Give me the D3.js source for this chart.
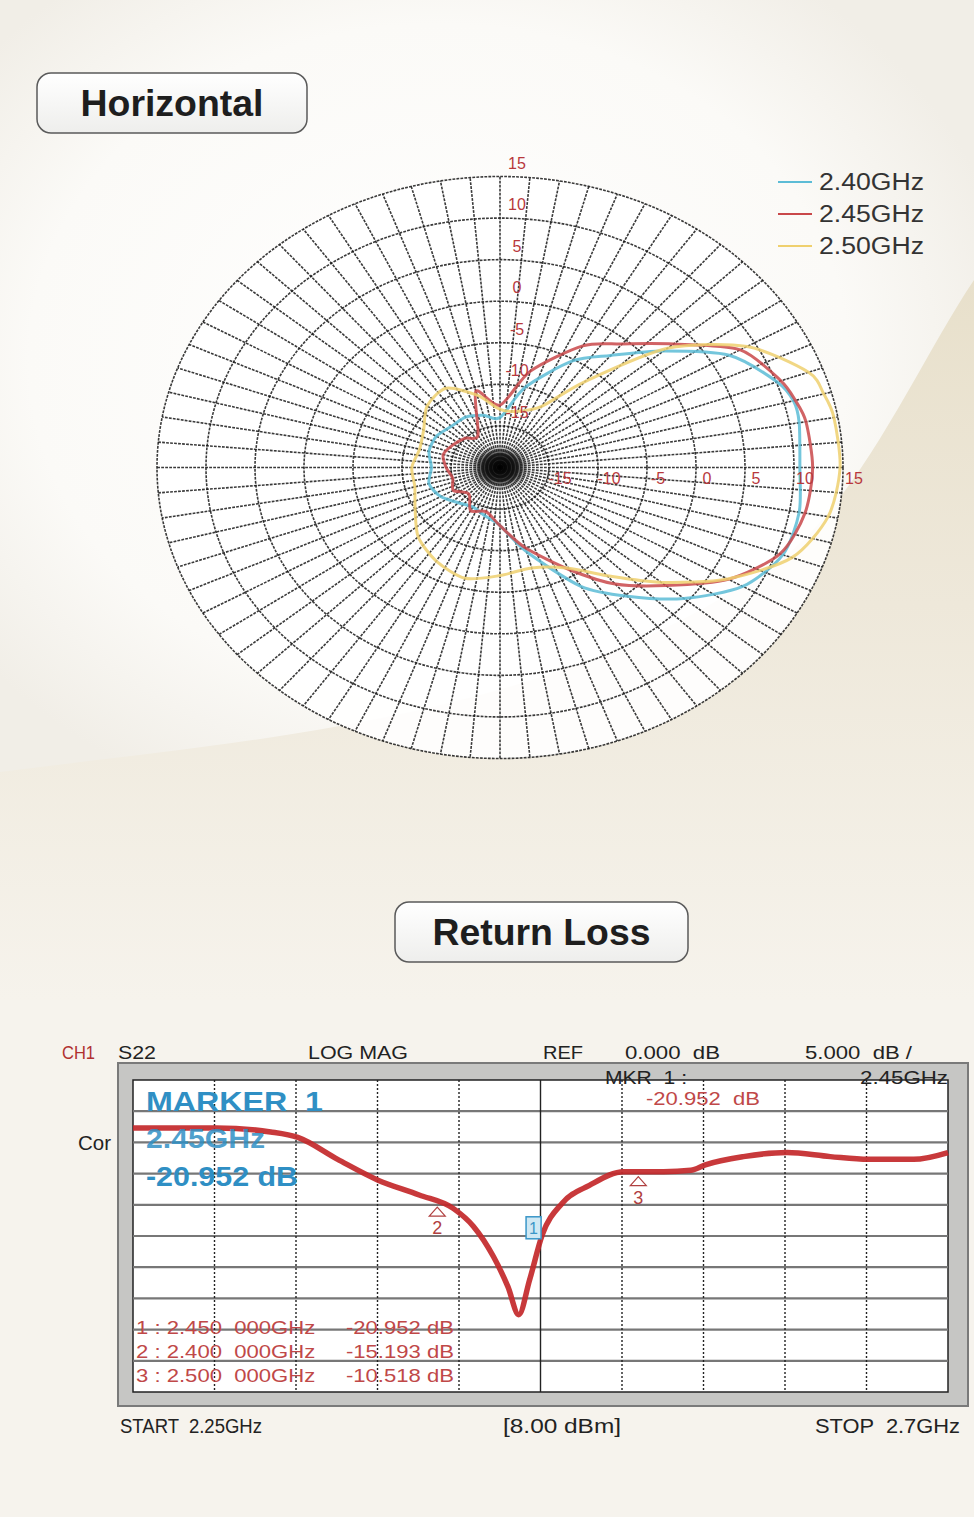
<!DOCTYPE html>
<html>
<head>
<meta charset="utf-8">
<script src="https://cdn.jsdelivr.net/npm/d3@7"></script>
<style>
  body { margin: 0; background: #f4f1ea; }
  svg { display: block; }
  text { font-family: "Liberation Sans", Arial, sans-serif; }
</style>
</head>
<body>
<svg id="chart" width="974" height="1517"></svg>
<script>
// ---- polar pattern data (gain in dB vs azimuth in degrees, 0 = right, counter-clockwise)
const angles = [0, 10, 15, 20, 30, 40, 50, 60, 75, 90, 105, 120, 135, 150, 165, 180,
  195, 210, 225, 240, 255, 270, 285, 300, 310, 320, 330, 340, 350];
const gain240 = [10.6, 11.0, 11.0, 10.1, 7.0, 1.8, -2.4, -5.2, -10, -14, -13.5, -13, -13, -12.5, -12.5, -13,
  -12.5, -13, -14, -14.5, -14, -13, -9.5, -3.5, 0.2, 4.5, 8.6, 10.7, 11.0];
const gain245 = [11.9, 11.7, 11.2, 10.5, 8.3, 3.1, -0.6, -3.1, -8, -12.5, -10.5, -15.5, -15, -14.5, -14, -14.5,
  -15, -14.5, -15.5, -14, -14.5, -13, -10, -5.8, -1.7, 2.1, 6.9, 10.4, 11.6];
const gain250 = [14.7, 14.6, 14.2, 13.5, 9.1, 2.3, -6.5, -11.5, -13, -13, -11, -9, -9.5, -11, -11.5, -11,
  -11, -10, -8.2, -7, -6.2, -7, -7.5, -6, -3, 1.5, 6.8, 11.7, 14.0];
const seriesNames = ["2.40GHz", "2.45GHz", "2.50GHz"];
const seriesColors = ["#5cbcd6", "#c9484a", "#efd06e"];
const ringValues = [-15, -10, -5, 0, 5, 10, 15];
const ringLabels = ["-15", "-10", "-5", "0", "5", "10", "15"];

// ---- return loss data (S22, GHz vs dB)
const freqs = [2.250, 2.296, 2.326, 2.341, 2.363, 2.385, 2.408, 2.427, 2.438, 2.449, 2.457, 2.463,
  2.469, 2.476, 2.487, 2.502, 2.521, 2.543, 2.558, 2.566, 2.587, 2.611, 2.635, 2.656, 2.681, 2.700];
const s22 = [-7.3, -7.3, -7.6, -8.0, -9.6, -11.1, -12.2, -13.2, -14.5, -16.7, -18.9, -20.95,
  -18.4, -15.1, -12.8, -11.5, -10.5, -10.5, -10.4, -10.0, -9.4, -9.1, -9.4, -9.6, -9.6, -9.1];
const markerIds = ["1", "2", "3"];
const markerFreqs = [2.472, 2.418, 2.529];
const markerRows = [
  "1 : 2.450  000GHz     -20.952 dB",
  "2 : 2.400  000GHz     -15.193 dB",
  "3 : 2.500  000GHz     -10.518 dB"
];

const svg = d3.select("#chart");
const defs = svg.append("defs");

// ---------- background
let g1 = defs.append("radialGradient").attr("id", "glow").attr("cx", 0.45).attr("cy", 0.45).attr("r", 0.6);
g1.append("stop").attr("offset", 0).attr("stop-color", "#ffffff");
g1.append("stop").attr("offset", 0.7).attr("stop-color", "#fbfaf7");
g1.append("stop").attr("offset", 1).attr("stop-color", "#f1eee7");
let g2 = defs.append("linearGradient").attr("id", "swoosh").attr("x1", 0).attr("y1", 0).attr("x2", 0).attr("y2", 1);
g2.append("stop").attr("offset", 0).attr("stop-color", "#e8e0cb");
g2.append("stop").attr("offset", 0.45).attr("stop-color", "#eee8da");
g2.append("stop").attr("offset", 1).attr("stop-color", "#f6f3ec");
let g3 = defs.append("linearGradient").attr("id", "box").attr("x1", 0).attr("y1", 0).attr("x2", 0).attr("y2", 1);
g3.append("stop").attr("offset", 0).attr("stop-color", "#ffffff");
g3.append("stop").attr("offset", 1).attr("stop-color", "#eeeeec");

svg.append("rect").attr("width", 974).attr("height", 1517).attr("fill", "#f5f2eb");
svg.append("rect").attr("width", 974).attr("height", 800).attr("fill", "url(#glow)");
svg.append("path")
  .attr("d", "M0,772 C250,740 560,720 780,560 C860,500 920,360 974,280 L974,1000 L0,1000 Z")
  .attr("fill", "url(#swoosh)");
svg.append("path")
  .attr("d", "M0,1000 L974,1000 L974,1517 L0,1517 Z")
  .attr("fill", "#f6f3ed");

// ---------- title boxes
function titleBox(x, y, w, h, label, len) {
  svg.append("rect").attr("x", x).attr("y", y).attr("width", w).attr("height", h)
    .attr("rx", 14).attr("fill", "url(#box)").attr("stroke", "#5a5a5a").attr("stroke-width", 1.5);
  svg.append("text").attr("x", x + w / 2).attr("y", y + h / 2 + 13)
    .attr("text-anchor", "middle").attr("font-size", 36).attr("font-weight", "bold")
    .attr("textLength", len).attr("lengthAdjust", "spacingAndGlyphs")
    .attr("fill", "#1e1e1e").text(label);
}
titleBox(37, 73, 270, 60, "Horizontal", 183);
titleBox(395, 902, 293, 60, "Return Loss", 218);

// ---------- polar chart
const cx = 500, cy = 467.5;
const rX = d3.scaleLinear().domain([-20, 15]).range([0, 343]).clamp(true);
const rY = d3.scaleLinear().domain([-20, 15]).range([0, 291]).clamp(true);
const toRad = d => d * Math.PI / 180;
const project = (deg, db) => [cx + rX(db) * Math.cos(toRad(deg)), cy - rY(db) * Math.sin(toRad(deg))];

const polar = svg.append("g");
polar.append("ellipse").attr("cx", cx).attr("cy", cy).attr("rx", 343).attr("ry", 291)
  .attr("fill", "#ffffff").attr("fill-opacity", 0.9);

// rings
polar.selectAll(".ring").data(ringValues).enter().append("ellipse")
  .attr("cx", cx).attr("cy", cy)
  .attr("rx", d => rX(d)).attr("ry", d => rY(d))
  .attr("fill", "none").attr("stroke", "#181818").attr("stroke-width", 1.6)
  .attr("stroke-opacity", 0.85).attr("stroke-dasharray", "2.8,1.2");

// spokes every 5 degrees
polar.selectAll(".spoke").data(d3.range(0, 360, 5)).enter().append("line")
  .attr("x1", cx).attr("y1", cy)
  .attr("x2", d => project(d, 15)[0]).attr("y2", d => project(d, 15)[1])
  .attr("stroke", "#181818").attr("stroke-width", 1.6).attr("stroke-opacity", 0.85)
  .attr("stroke-dasharray", "2.8,1.2");

// dark hub
let hub = defs.append("radialGradient").attr("id", "hub");
hub.append("stop").attr("offset", 0).attr("stop-color", "#000").attr("stop-opacity", 1);
hub.append("stop").attr("offset", 0.55).attr("stop-color", "#111").attr("stop-opacity", 0.85);
hub.append("stop").attr("offset", 1).attr("stop-color", "#222").attr("stop-opacity", 0);
polar.append("ellipse").attr("cx", cx).attr("cy", cy).attr("rx", 30).attr("ry", 22).attr("fill", "url(#hub)");

// traces
const traceLine = d3.line().curve(d3.curveCardinalClosed.tension(0.2));
[gain240, gain245, gain250].forEach((gains, i) => {
  const pts = angles.map((a, k) => project(a, gains[k]));
  polar.append("path").attr("d", traceLine(pts))
    .attr("fill", "none").attr("stroke", seriesColors[i])
    .attr("stroke-width", 3).attr("stroke-opacity", 0.85);
});

// ring labels (vertical and horizontal)
polar.selectAll(".vlab").data(ringValues).enter().append("text")
  .attr("x", cx + 17).attr("y", d => cy - rY(d) - 8)
  .attr("text-anchor", "middle").attr("font-size", 16).attr("fill", "#b8383c")
  .text((d, i) => ringLabels[i]);
polar.selectAll(".hlab").data(ringValues).enter().append("text")
  .attr("x", d => cx + rX(d) + 11).attr("y", cy + 16)
  .attr("text-anchor", "middle").attr("font-size", 16).attr("fill", "#b8383c")
  .text((d, i) => ringLabels[i]);

// legend
const legend = svg.append("g").attr("transform", "translate(778,182)");
seriesNames.forEach((name, i) => {
  legend.append("line").attr("x1", 0).attr("x2", 34).attr("y1", i * 32).attr("y2", i * 32)
    .attr("stroke", seriesColors[i]).attr("stroke-width", 2);
  legend.append("text").attr("x", 41).attr("y", i * 32 + 8).attr("font-size", 23)
    .attr("textLength", 105).attr("lengthAdjust", "spacingAndGlyphs")
    .attr("fill", "#333").text(name);
});

// ---------- return loss chart
const plotL = 133, plotR = 948, plotT = 1080, plotB = 1392;
const x = d3.scaleLinear().domain([2.25, 2.70]).range([plotL, plotR]);
const y = d3.scaleLinear().domain([-3.8, -26.6]).range([plotT, plotB]);

const rl = svg.append("g");
rl.append("rect").attr("x", 118).attr("y", 1063).attr("width", 850).attr("height", 343)
  .attr("fill", "#c6c6c4").attr("stroke", "#7a7a7a").attr("stroke-width", 2);
rl.append("rect").attr("x", plotL).attr("y", plotT).attr("width", plotR - plotL).attr("height", plotB - plotT)
  .attr("fill", "#ffffff").attr("stroke", "#222").attr("stroke-width", 1.5);

const divs = d3.range(1, 10);
const xTicks = divs.map(i => 2.25 + i * 0.045);
const yTicks = divs.map(i => -3.8 + i * (-22.8 / 10));
rl.selectAll(".hg").data(yTicks).enter().append("line")
  .attr("x1", plotL).attr("x2", plotR).attr("y1", d => y(d)).attr("y2", d => y(d))
  .attr("stroke", "#777").attr("stroke-width", 2.2);
rl.selectAll(".vg").data(xTicks).enter().append("line")
  .attr("y1", plotT).attr("y2", plotB).attr("x1", d => x(d)).attr("x2", d => x(d))
  .attr("stroke", "#222").attr("stroke-width", 1.4)
  .attr("stroke-dasharray", (d, i) => i === 4 ? null : "2,2");

// curve
const rlLine = d3.line().x((d, i) => x(freqs[i])).y(d => y(d)).curve(d3.curveMonotoneX);
rl.append("path").datum(s22).attr("d", rlLine)
  .attr("fill", "none").attr("stroke", "#c3282a").attr("stroke-width", 5.5)
  .attr("stroke-opacity", 0.92).attr("stroke-linejoin", "round");

// markers
const curveAt = f => {
  const i = d3.bisector(d => d).left(freqs, f);
  const t = (f - freqs[i - 1]) / (freqs[i] - freqs[i - 1]);
  return s22[i - 1] + t * (s22[i] - s22[i - 1]);
};
markerIds.forEach((id, k) => {
  const mx = x(markerFreqs[k]), my = y(curveAt(markerFreqs[k]));
  if (id === "1") {
    rl.append("rect").attr("x", mx - 9).attr("y", y(-14.6) - 11).attr("width", 15).attr("height", 22)
      .attr("fill", "#cfe8f3").attr("stroke", "#3a96c8").attr("stroke-width", 1.5);
    rl.append("text").attr("x", mx - 1.5).attr("y", y(-14.6) + 6).attr("text-anchor", "middle")
      .attr("font-size", 16).attr("fill", "#3a96c8").text(id);
  } else {
    rl.append("path").attr("d", `M${mx - 8},${my + 14} L${mx + 8},${my + 14} L${mx},${my + 5} Z`)
      .attr("fill", "none").attr("stroke", "#b04040").attr("stroke-width", 1.2);
    rl.append("text").attr("x", mx).attr("y", my + 32).attr("text-anchor", "middle")
      .attr("font-size", 18).attr("fill", "#b04040").text(id);
  }
});

// helper for fixed-width text
function label(g, txt, xx, yy, size, color, len, anchor) {
  const t = g.append("text").attr("x", xx).attr("y", yy).attr("font-size", size)
    .attr("fill", color).attr("xml:space", "preserve").text(txt);
  if (len) t.attr("textLength", len).attr("lengthAdjust", "spacingAndGlyphs");
  if (anchor) t.attr("text-anchor", anchor);
  return t;
}

// marker readout
label(rl, "MARKER  1", 146, 1111, 28, "#2f8fc4", 177).attr("font-weight", "bold");
label(rl, "2.45GHz", 146, 1148, 27, "#2f8fc4", 119).attr("font-weight", "bold").attr("fill-opacity", 0.85);
label(rl, "-20.952 dB", 146, 1186, 27, "#2f8fc4", 152).attr("font-weight", "bold");
label(rl, "MKR  1 :", 605, 1084, 19, "#222", 82);
label(rl, "2.45GHz", 948, 1084, 19, "#222", 88, "end");
label(rl, "-20.952  dB", 646, 1105, 19, "#c04848", 114);
markerRows.forEach((row, i) => {
  label(rl, row, 136, 1334 + i * 24, 19, "#c04848", 318);
});

// header and footer labels
label(svg, "CH1", 62, 1059, 19, "#b03030", 33);
label(svg, "S22", 118, 1059, 19, "#222", 38);
label(svg, "LOG MAG", 308, 1059, 19, "#222", 100);
label(svg, "REF", 543, 1059, 19, "#222", 40);
label(svg, "0.000  dB", 625, 1059, 19, "#222", 95);
label(svg, "5.000  dB /", 805, 1059, 19, "#222", 107);
label(svg, "Cor", 78, 1150, 20, "#222", 33);
label(svg, "START  2.25GHz", 120, 1433, 20, "#222", 142);
label(svg, "[8.00 dBm]", 503, 1433, 20, "#222", 118);
label(svg, "STOP  2.7GHz", 960, 1433, 20, "#222", 145, "end");
</script>
</body>
</html>
